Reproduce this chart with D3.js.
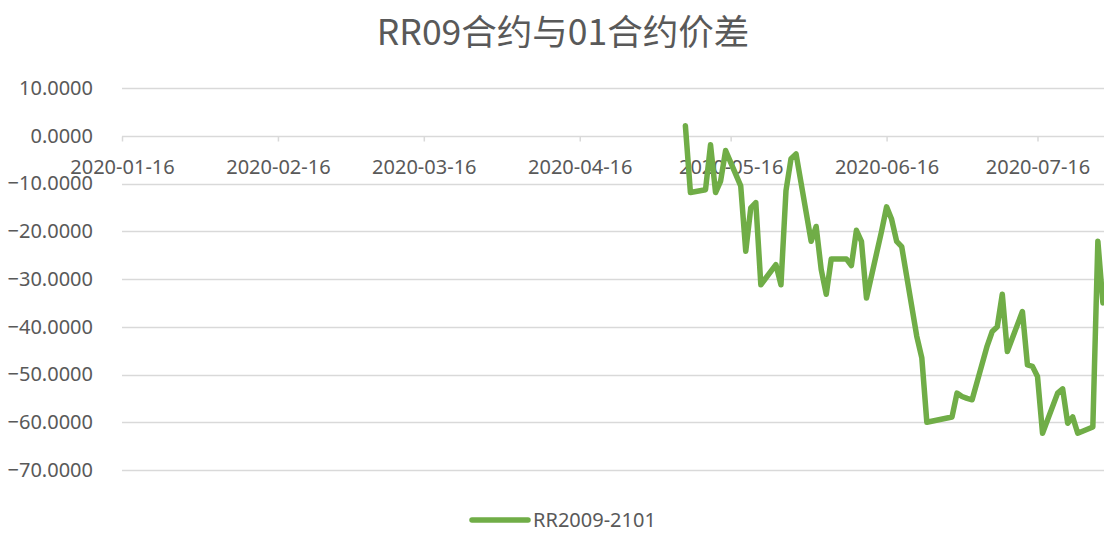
<!DOCTYPE html>
<html>
<head>
<meta charset="utf-8">
<script src="https://cdn.jsdelivr.net/npm/d3@7"></script>
<style>
  body { margin: 0; background: #fff; }
  svg { display: block; font-family: "Noto Sans", "Noto Sans CJK SC", sans-serif; }
</style>
</head>
<body>
<svg id="chart" width="1104" height="533"></svg>
<script>
'use strict';

var title = 'RR09合约与01合约价差';
var seriesName = 'RR2009-2101';

var dates = [
    '2020-05-07', '2020-05-08', '2020-05-11', '2020-05-12', '2020-05-13', '2020-05-14', '2020-05-15',
    '2020-05-18', '2020-05-19', '2020-05-20', '2020-05-21', '2020-05-22',
    '2020-05-25', '2020-05-26', '2020-05-27', '2020-05-28', '2020-05-29',
    '2020-06-01', '2020-06-02', '2020-06-03', '2020-06-04', '2020-06-05',
    '2020-06-08', '2020-06-09', '2020-06-10', '2020-06-11', '2020-06-12',
    '2020-06-15', '2020-06-16', '2020-06-17', '2020-06-18', '2020-06-19',
    '2020-06-22', '2020-06-23', '2020-06-24',
    '2020-06-29', '2020-06-30', '2020-07-01', '2020-07-02', '2020-07-03',
    '2020-07-06', '2020-07-07', '2020-07-08', '2020-07-09', '2020-07-10',
    '2020-07-13', '2020-07-14', '2020-07-15', '2020-07-16', '2020-07-17',
    '2020-07-20', '2020-07-21', '2020-07-22', '2020-07-23', '2020-07-24',
    '2020-07-27', '2020-07-28', '2020-07-29'
];

var spread = [
    2.1, -11.9, -11.3, -1.9, -11.9, -9.5, -3.1,
    -10.5, -24.2, -15.1, -14.0, -31.2,
    -27.0, -31.2, -11.5, -4.8, -3.8,
    -22.1, -19.0, -28.0, -33.2, -25.8,
    -25.8, -27.2, -19.8, -22.1, -34.0,
    -20.0, -14.9, -17.5, -22.1, -23.2,
    -42.0, -46.5, -60.0,
    -58.9, -53.9, -54.6, -55.0, -55.3,
    -44.0, -41.0, -40.0, -33.2, -45.2,
    -36.8, -48.0, -48.3, -50.4, -62.3,
    -53.9, -53.0, -60.2, -58.9, -62.3,
    -61.0, -22.1, -35.0
];

var xTicks = ['2020-01-16', '2020-02-16', '2020-03-16', '2020-04-16', '2020-05-16', '2020-06-16', '2020-07-16'];
var yTicks = [10, 0, -10, -20, -30, -40, -50, -60, -70];

var parseDate = d3.timeParse('%Y-%m-%d');
var textColor = '#595959';
var gridColor = '#d9d9d9';
var lineColor = '#70ad47';

var svg = d3.select('#chart');
var width = +svg.attr('width');

var x = d3.scaleTime()
    .domain([parseDate(xTicks[0]), parseDate(xTicks[xTicks.length - 1])])
    .range([122, 1037.5]);

var y = d3.scaleLinear()
    .domain([-70, 10])
    .range([470, 88]);

// title
svg.append('text')
    .attr('x', 563)
    .attr('y', 45)
    .attr('text-anchor', 'middle')
    .style('font-family', '"Noto Sans CJK SC", sans-serif')
    .style('font-size', '35.5px')
    .attr('fill', textColor)
    .text(title);

// gridlines
svg.append('g')
    .selectAll('line')
    .data(yTicks)
    .enter()
    .append('line')
    .attr('x1', x.range()[0])
    .attr('x2', width)
    .attr('y1', function (d) { return Math.round(y(d)) + 0.5; })
    .attr('y2', function (d) { return Math.round(y(d)) + 0.5; })
    .attr('stroke', gridColor)
    .attr('stroke-width', 1.5);

// y labels
var yAxis = d3.axisLeft(y)
    .tickValues(yTicks)
    .tickSize(0)
    .tickPadding(0)
    .tickFormat(d3.format('.4f'));

svg.append('g')
    .attr('transform', 'translate(93,0)')
    .call(yAxis)
    .call(function (g) {
        g.select('.domain').remove();
        g.selectAll('text')
            .attr('fill', textColor)
            .style('font-size', '20px')
            .style('font-family', '"Noto Sans", sans-serif');
    });

// x axis at zero
var xAxis = d3.axisBottom(x)
    .tickValues(xTicks.map(parseDate))
    .tickSize(5)
    .tickPadding(18)
    .tickFormat(d3.timeFormat('%Y-%m-%d'));

svg.append('g')
    .attr('transform', 'translate(0,' + (Math.round(y(0)) + 0.5) + ')')
    .call(xAxis)
    .call(function (g) {
        g.select('.domain').remove();
        g.selectAll('.tick line').attr('stroke', gridColor).attr('stroke-width', 1.5);
        g.selectAll('text')
            .attr('fill', textColor)
            .style('font-size', '20px')
            .style('font-family', '"Noto Sans", sans-serif');
    });

// series
var points = dates.map(function (d, i) {
    return { date: parseDate(d), value: spread[i] };
});

var line = d3.line()
    .x(function (d) { return x(d.date); })
    .y(function (d) { return y(d.value); });

svg.append('path')
    .datum(points)
    .attr('d', line)
    .attr('fill', 'none')
    .attr('stroke', lineColor)
    .attr('stroke-width', 5.5)
    .attr('stroke-linejoin', 'round')
    .attr('stroke-linecap', 'round');

// legend
var legend = svg.append('g').attr('transform', 'translate(472,520)');

legend.append('line')
    .attr('x1', 0)
    .attr('x2', 56)
    .attr('stroke', lineColor)
    .attr('stroke-width', 5.5)
    .attr('stroke-linecap', 'round');

legend.append('text')
    .attr('x', 61)
    .attr('y', 7)
    .attr('fill', textColor)
    .style('font-size', '20px')
    .text(seriesName);
</script>
</body>
</html>
